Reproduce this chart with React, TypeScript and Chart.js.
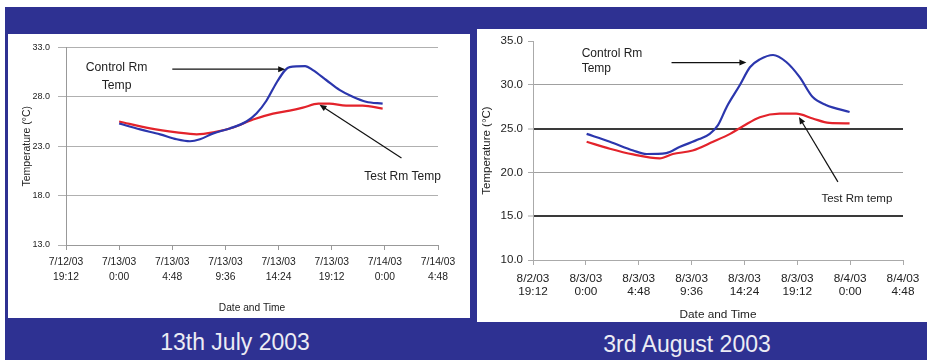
import React, { useEffect, useRef } from 'react';
import { Chart, registerables } from 'chart.js';

Chart.register(...registerables);

const FONT = '"Liberation Sans", Arial, Helvetica, sans-serif';
const BLUE = '#2b36ad';
const RED = '#e3232b';
const BG = '#2e3192';

// x values are hours after the first tick (19:12 of the previous day)
const tickHours = [0, 4.8, 9.6, 14.4, 19.2, 24, 28.8, 33.6];

const julyTickDates = ['7/12/03', '7/13/03', '7/13/03', '7/13/03', '7/13/03', '7/13/03', '7/14/03', '7/14/03'];
const julyTickTimes = ['19:12', '0:00', '4:48', '9:36', '14:24', '19:12', '0:00', '4:48'];
const julyYTicks = [13, 18, 23, 28, 33];

const julyControlHours = [4.8, 6.7, 8.5, 10.0, 11.2, 12.1, 13.3, 14.8, 16.3, 17.2, 18.1, 19.0, 19.8, 20.2, 21.6, 22.3, 23.5, 24.7, 25.9, 27.1, 28.6];
const julyControlTemp = [25.3, 24.7, 24.2, 23.7, 23.5, 23.7, 24.3, 24.8, 25.5, 26.3, 27.6, 29.4, 30.7, 31.0, 31.1, 30.7, 29.7, 28.7, 28.0, 27.5, 27.3];
const julyTestHours = [4.8, 7.6, 10.0, 11.8, 13.3, 15.1, 16.9, 18.7, 20.2, 21.4, 22.8, 23.8, 25.3, 26.8, 28.6];
const julyTestTemp = [25.5, 24.8, 24.4, 24.2, 24.4, 24.9, 25.7, 26.3, 26.6, 26.9, 27.3, 27.3, 27.1, 27.1, 26.8];

const augTickDates = ['8/2/03', '8/3/03', '8/3/03', '8/3/03', '8/3/03', '8/3/03', '8/4/03', '8/4/03'];
const augTickTimes = ['19:12', '0:00', '4:48', '9:36', '14:24', '19:12', '0:00', '4:48'];
const augYTicks = [10, 15, 20, 25, 30, 35];

const augControlHours = [4.87, 6.98, 9.1, 10.3, 12.1, 13.3, 15.1, 16.05, 16.8, 17.6, 18.8, 19.7, 20.6, 21.8, 23.0, 24.2, 25.4, 26.6, 28.75];
const augControlTemp = [24.4, 23.5, 22.5, 22.1, 22.2, 22.9, 23.8, 24.4, 25.4, 27.5, 30.0, 32.0, 32.9, 33.4, 32.6, 30.9, 28.6, 27.7, 26.9];
const augTestHours = [4.87, 6.98, 9.1, 11.5, 12.7, 14.5, 16.35, 17.9, 19.1, 20.6, 22.4, 23.9, 25.4, 26.9, 28.75];
const augTestTemp = [23.5, 22.7, 22.05, 21.6, 22.1, 22.5, 23.5, 24.4, 25.3, 26.3, 26.7, 26.7, 26.15, 25.65, 25.6];

type TextNote = { lines: string[]; x: number; y: number; size: number; align: CanvasTextAlign; gap: number };
type ArrowNote = { x1: number; y1: number; x2: number; y2: number };

const julyTexts: TextNote[] = [
  { lines: ['Control Rm', 'Temp'], x: 4.57, y: 31.0, size: 12.2, align: 'center', gap: 18 },
  { lines: ['Test Rm Temp'], x: 30.4, y: 19.9, size: 12, align: 'center', gap: 0 },
];
const julyArrows: ArrowNote[] = [
  { x1: 9.6, y1: 30.8, x2: 19.8, y2: 30.8 },
  { x1: 30.3, y1: 21.8, x2: 22.9, y2: 27.2 },
];
const augTexts: TextNote[] = [
  { lines: ['Control Rm', 'Temp'], x: 4.42, y: 33.56, size: 12, align: 'left', gap: 15 },
  { lines: ['Test Rm temp'], x: 26.19, y: 17.03, size: 11.5, align: 'left', gap: 0 },
];
const augArrows: ArrowNote[] = [
  { x1: 12.58, y1: 32.54, x2: 19.38, y2: 32.54 },
  { x1: 27.69, y1: 18.92, x2: 24.15, y2: 26.33 },
];

function notesPlugin(texts: TextNote[], arrows: ArrowNote[]) {
  return {
    id: 'notes',
    afterDatasetsDraw(chart: any) {
      const ctx: CanvasRenderingContext2D = chart.ctx;
      const xs = chart.scales.x;
      const ys = chart.scales.y;
      ctx.save();
      ctx.fillStyle = '#222';
      ctx.textBaseline = 'middle';
      for (const t of texts) {
        ctx.font = `${t.size}px ${FONT}`;
        ctx.textAlign = t.align;
        const px = xs.getPixelForValue(t.x);
        const py = ys.getPixelForValue(t.y);
        t.lines.forEach((ln, i) => ctx.fillText(ln, px, py + i * t.gap));
      }
      ctx.strokeStyle = '#111';
      ctx.fillStyle = '#111';
      ctx.lineWidth = 1.2;
      for (const a of arrows) {
        const x1 = xs.getPixelForValue(a.x1);
        const y1 = ys.getPixelForValue(a.y1);
        const x2 = xs.getPixelForValue(a.x2);
        const y2 = ys.getPixelForValue(a.y2);
        const ang = Math.atan2(y2 - y1, x2 - x1);
        const L = 7;
        const W = 3;
        ctx.beginPath();
        ctx.moveTo(x1, y1);
        ctx.lineTo(x2 - Math.cos(ang) * L * 0.8, y2 - Math.sin(ang) * L * 0.8);
        ctx.stroke();
        ctx.beginPath();
        ctx.moveTo(x2, y2);
        ctx.lineTo(x2 - Math.cos(ang) * L - Math.sin(ang) * W, y2 - Math.sin(ang) * L + Math.cos(ang) * W);
        ctx.lineTo(x2 - Math.cos(ang) * L + Math.sin(ang) * W, y2 - Math.sin(ang) * L - Math.cos(ang) * W);
        ctx.closePath();
        ctx.fill();
      }
      ctx.restore();
    },
  };
}

function pts(xs: number[], ys: number[]) {
  return xs.map((x, i) => ({ x, y: ys[i] }));
}

function lineDs(label: string, data: any[], color: string) {
  return {
    label,
    data,
    borderColor: color,
    backgroundColor: color,
    borderWidth: 2.2,
    pointRadius: 0,
    cubicInterpolationMode: 'monotone' as const,
    fill: false,
  };
}

function julyConfig(): any {
  return {
    type: 'line',
    data: {
      datasets: [
        lineDs('Control Rm Temp', pts(julyControlHours, julyControlTemp), BLUE),
        lineDs('Test Rm Temp', pts(julyTestHours, julyTestTemp), RED),
      ],
    },
    options: {
      responsive: false,
      animation: false,
      devicePixelRatio: 1,
      layout: { padding: { left: 0, right: 32, top: 12, bottom: 0 } },
      plugins: { legend: { display: false }, tooltip: { enabled: false } },
      scales: {
        x: {
          type: 'linear',
          min: 0,
          max: 33.6,
          afterBuildTicks: (s: any) => { s.ticks = tickHours.map((v) => ({ value: v })); },
          afterFit: (s: any) => { s.height = 73; },
          ticks: {
            autoSkip: false,
            maxRotation: 0,
            padding: 5,
            color: '#222',
            font: { family: FONT, size: 10.3, lineHeight: '15px' },
            callback: (_v: any, i: number) => [julyTickDates[i], julyTickTimes[i]],
          },
          grid: { drawOnChartArea: false, tickLength: 5, color: '#999', tickColor: '#999' },
          border: { color: '#999' },
          title: { display: true, text: 'Date and Time', color: '#222', font: { family: FONT, size: 10.2 }, padding: { top: 0, bottom: 4 } },
        },
        y: {
          type: 'linear',
          min: 13,
          max: 33,
          afterBuildTicks: (s: any) => { s.ticks = julyYTicks.map((v) => ({ value: v })); },
          afterFit: (s: any) => { s.width = 58; },
          ticks: { padding: 8, color: '#222', font: { family: FONT, size: 9 }, callback: (v: any) => Number(v).toFixed(1) },
          grid: { color: '#b0b0b0', tickLength: 8, tickColor: '#b0b0b0' },
          border: { color: '#999' },
          title: { display: true, text: 'Temperature (°C)', color: '#222', font: { family: FONT, size: 10.5 }, padding: { top: 13, bottom: 0 } },
        },
      },
    },
    plugins: [notesPlugin(julyTexts, julyArrows)],
  };
}

function augConfig(): any {
  const darkLines = [15, 25];
  return {
    type: 'line',
    data: {
      datasets: [
        lineDs('Control Rm Temp', pts(augControlHours, augControlTemp), BLUE),
        lineDs('Test Rm temp', pts(augTestHours, augTestTemp), RED),
      ],
    },
    options: {
      responsive: false,
      animation: false,
      devicePixelRatio: 1,
      layout: { padding: { left: 0, right: 24, top: 12, bottom: 0 } },
      plugins: { legend: { display: false }, tooltip: { enabled: false } },
      scales: {
        x: {
          type: 'linear',
          min: 0,
          max: 33.6,
          afterBuildTicks: (s: any) => { s.ticks = tickHours.map((v) => ({ value: v })); },
          afterFit: (s: any) => { s.height = 62; },
          ticks: {
            autoSkip: false,
            maxRotation: 0,
            padding: 7.5,
            color: '#222',
            font: { family: FONT, size: 11.8, lineHeight: '13px' },
            callback: (_v: any, i: number) => [augTickDates[i], augTickTimes[i]],
          },
          grid: { drawOnChartArea: false, tickLength: 5, color: '#aaa', tickColor: '#aaa' },
          border: { color: '#aaa' },
          title: { display: true, text: 'Date and Time', color: '#222', font: { family: FONT, size: 11.8 }, padding: { top: 0, bottom: 0 } },
        },
        y: {
          type: 'linear',
          min: 10,
          max: 35,
          afterBuildTicks: (s: any) => { s.ticks = augYTicks.map((v) => ({ value: v })); },
          afterFit: (s: any) => { s.width = 56; },
          ticks: { padding: 5, color: '#222', font: { family: FONT, size: 11.5 }, callback: (v: any) => Number(v).toFixed(1) },
          grid: {
            color: (c: any) => {
              const v = c.tick && c.tick.value;
              if (v === 35) return 'rgba(0,0,0,0)';
              if (darkLines.includes(v)) return '#3a3a3a';
              return '#a0a0a0';
            },
            lineWidth: (c: any) => (c.tick && darkLines.includes(c.tick.value) ? 2 : 1),
            tickLength: 5,
            tickColor: '#aaa',
            tickWidth: 1,
          },
          border: { color: '#aaa' },
          title: { display: true, text: 'Temperature (°C)', color: '#222', font: { family: FONT, size: 11.5 }, padding: { top: 3, bottom: 0 } },
        },
      },
    },
    plugins: [notesPlugin(augTexts, augArrows)],
  };
}

function Panel(props: { left: number; top: number; width: number; height: number; make: () => any }) {
  const ref = useRef<HTMLCanvasElement>(null);
  useEffect(() => {
    const chart = new Chart(ref.current as HTMLCanvasElement, props.make());
    return () => chart.destroy();
  }, []);
  const { left, top, width, height } = props;
  return (
    <div style={{ position: 'absolute', left, top, width, height, background: '#fff' }}>
      <canvas ref={ref} width={width} height={height} style={{ display: 'block', width, height }} />
    </div>
  );
}

const captionStyle: React.CSSProperties = {
  position: 'absolute',
  width: 320,
  textAlign: 'center',
  color: '#ececf4',
  fontFamily: FONT,
  fontSize: 23,
  lineHeight: '23px',
  whiteSpace: 'nowrap',
};

export default function App() {
  return (
    <div style={{ position: 'absolute', left: 0, top: 0, width: 927, height: 360, background: '#fff', overflow: 'hidden' }}>
      <div style={{ position: 'absolute', left: 5, top: 7, width: 922, height: 353, background: BG }} />
      <Panel left={8} top={34} width={462} height={284} make={julyConfig} />
      <Panel left={477} top={29} width={450} height={293} make={augConfig} />
      <div style={{ ...captionStyle, left: 235 - 160, top: 331 }}>13th July 2003</div>
      <div style={{ ...captionStyle, left: 687 - 160, top: 333 }}>3rd August 2003</div>
    </div>
  );
}
